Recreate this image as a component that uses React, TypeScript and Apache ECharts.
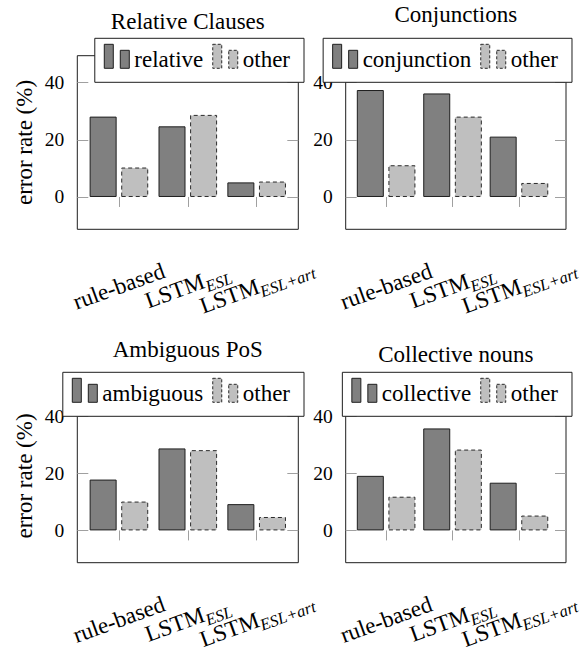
import React, { useEffect, useRef } from 'react';
import * as echarts from 'echarts';

// ---------- data ----------
const categories = ['rule-based', 'LSTM_{ESL}', 'LSTM_{ESL+art}'];
const panelTitles = ['Relative Clauses', 'Conjunctions', 'Ambiguous PoS', 'Collective nouns'];
const focusNames = ['relative', 'conjunction', 'ambiguous', 'collective'];
const otherName = 'other';

const relativeValues = [28.1, 24.7, 5.1];
const relativeOther = [10.3, 28.7, 5.4];
const conjunctionValues = [37.4, 36.2, 21.1];
const conjunctionOther = [11.1, 28.1, 4.9];
const ambiguousValues = [17.8, 28.7, 9.2];
const ambiguousOther = [10.1, 28.1, 4.7];
const collectiveValues = [19.1, 35.7, 16.7];
const collectiveOther = [11.8, 28.3, 5.2];

const yTicks = [0, 20, 40];
const yMin = -11.3;
const yMax = 49.4;
const yAxisName = 'error rate (%)';

const focusSeries = [relativeValues, conjunctionValues, ambiguousValues, collectiveValues];
const otherSeries = [relativeOther, conjunctionOther, ambiguousOther, collectiveOther];

// ---------- layout / style ----------
const FONT = "'Liberation Serif', 'Times New Roman', serif";
const FS = 23;
const DARK = '#808080';
const LIGHT = '#bfbfbf';
const EDGE = '#1e1e1e';
const TICK = '#a0a0a0';
const boxes = [
  { l: 77.3, t: 55.7, w: 221, h: 173.6 },
  { l: 345.7, t: 55.7, w: 220.3, h: 173.6 },
  { l: 77.3, t: 389.3, w: 221, h: 173.4 },
  { l: 345.7, t: 389.3, w: 220.3, h: 173.4 },
];
const titleTops = [9.5, 3, 338, 343];
const legendRight = [278, 10, 278, 10];
const legendTop = [38.3, 38.3, 372.3, 372.3];
const PAD = 7.2;
const ICON = 'path://M0,0H9V24H0Z M16,6H25V24H16Z';

function formatCategory(v: string) {
  const m = v.match(/^(.*)_\{(.*)\}$/);
  if (m) return `{m|${m[1]}}{s|${m[2]}}`;
  return `{m|${v}}`;
}

function buildOption() {
  const grid: any[] = [];
  const xAxis: any[] = [];
  const yAxis: any[] = [];
  const series: any[] = [];
  const legend: any[] = [];
  const title: any[] = [];

  boxes.forEach((b, p) => {
    grid.push({
      left: b.l, top: b.t, width: b.w, height: b.h,
      show: true, borderColor: EDGE, borderWidth: 1, backgroundColor: 'transparent',
    });
    grid.push({ left: b.l + PAD, top: b.t, width: b.w - 2 * PAD, height: b.h, show: false });

    xAxis.push({ type: 'value', gridIndex: 2 * p, min: 0, max: 1, show: false });
    xAxis.push({
      type: 'category', gridIndex: 2 * p + 1, data: categories,
      axisLine: { show: false },
      axisTick: { show: true, alignWithLabel: true, length: 10, lineStyle: { color: TICK, width: 1 } },
      axisLabel: {
        interval: 0, rotate: 20, align: 'center', verticalAlign: 'middle', margin: 57,
        color: '#000', fontFamily: FONT, fontSize: FS,
        formatter: formatCategory,
        rich: {
          m: { fontSize: FS, fontFamily: FONT, color: '#000', verticalAlign: 'top', lineHeight: FS },
          s: { fontSize: 16.5, fontFamily: FONT, fontStyle: 'italic', color: '#000', verticalAlign: 'top', lineHeight: 16.5, padding: [10, 0, 0, 0] },
        },
      },
      splitLine: { show: false },
    });

    const left = p % 2 === 0;
    yAxis.push({
      type: 'value', gridIndex: 2 * p, position: 'left', min: yMin, max: yMax,
      axisLine: { show: false },
      axisTick: { show: true, inside: true, length: 11, customValues: yTicks, lineStyle: { color: TICK, width: 1 } },
      axisLabel: { show: true, customValues: yTicks, margin: 13, color: '#000', fontFamily: FONT, fontSize: 19.5 },
      splitLine: { show: false },
      name: left ? yAxisName : '',
      nameLocation: 'middle', nameGap: 41,
      nameTextStyle: { color: '#000', fontFamily: FONT, fontSize: FS },
    });
    yAxis.push({
      type: 'value', gridIndex: 2 * p, position: 'right', min: yMin, max: yMax,
      axisLine: { show: false },
      axisTick: { show: true, inside: true, length: 11, customValues: yTicks, lineStyle: { color: TICK, width: 1 } },
      axisLabel: { show: false },
      splitLine: { show: false },
    });
    yAxis.push({ type: 'value', gridIndex: 2 * p + 1, min: yMin, max: yMax, show: false, splitLine: { show: false } });

    series.push({
      type: 'bar', name: focusNames[p], xAxisIndex: 2 * p + 1, yAxisIndex: 3 * p + 2,
      data: focusSeries[p], barWidth: 27, barGap: '17%',
      itemStyle: { color: DARK, borderColor: EDGE, borderWidth: 1 },
    });
    series.push({
      type: 'bar', name: otherName, xAxisIndex: 2 * p + 1, yAxisIndex: 3 * p + 2,
      data: otherSeries[p], barWidth: 27, barGap: '17%',
      itemStyle: { color: LIGHT, borderColor: '#2a2a2a', borderWidth: 1, borderType: [4, 3] },
    });

    legend.push({
      right: legendRight[p], top: legendTop[p], orient: 'horizontal',
      data: [
        { name: focusNames[p], icon: ICON, itemStyle: { color: DARK, borderColor: EDGE, borderWidth: 1 } },
        { name: otherName, icon: ICON, itemStyle: { color: LIGHT, borderColor: '#2a2a2a', borderWidth: 1, borderType: [3, 2] } },
      ],
      itemWidth: 25, itemHeight: 24, itemGap: 9,
      padding: [3, 14, 11, 9],
      borderColor: EDGE, borderWidth: 1, borderRadius: 0, backgroundColor: '#fff',
      formatter: '{t|{name}}',
      textStyle: {
        fontSize: FS, color: '#000', fontFamily: FONT,
        rich: { t: { fontSize: FS, fontFamily: FONT, color: '#000', lineHeight: FS, padding: [7, 0, 0, 0] } },
      },
      selectedMode: false, z: 10,
    });

    title.push({
      text: panelTitles[p], left: b.l + b.w / 2, top: titleTops[p], textAlign: 'center', padding: 0,
      textStyle: { fontSize: FS, fontWeight: 'normal', color: '#000', fontFamily: FONT },
    });
  });

  return { animation: false, backgroundColor: '#fff', textStyle: { fontFamily: FONT }, title, legend, grid, xAxis, yAxis, series };
}

export default function App() {
  const ref = useRef<HTMLDivElement>(null);
  useEffect(() => {
    document.body.style.margin = '0';
    if (!ref.current) return;
    const chart = echarts.init(ref.current, undefined, { renderer: 'svg' });
    chart.setOption(buildOption() as any);
    return () => chart.dispose();
  }, []);
  return <div ref={ref} style={{ width: 582, height: 657 }} />;
}
